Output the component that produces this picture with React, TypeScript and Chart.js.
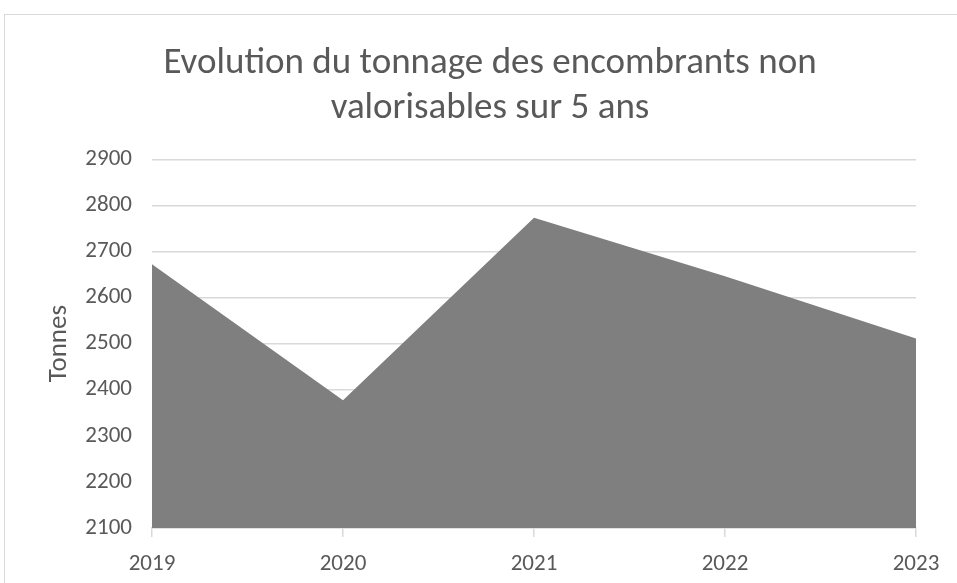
import { useEffect, useRef } from "react";
import { Chart, registerables } from "chart.js";

Chart.register(...registerables);

const years = ["2019", "2020", "2021", "2022", "2023"];
const tonnes = [2672, 2377, 2773, 2646, 2511];
const yMin = 2100;
const yMax = 2900;
const yStep = 100;
const titleLines = ["Evolution du tonnage des encombrants non", "valorisables sur 5 ans"];
const yTitle = "Tonnes";

const FONT = "Carlito, 'Open Sans', sans-serif";
const TEXT = "#595959";
const GRID = "#d9d9d9";

export default function App() {
  const ref = useRef<HTMLCanvasElement | null>(null);

  useEffect(() => {
    if (!ref.current) return;
    const chart = new Chart(ref.current, {
      type: "line",
      data: {
        labels: years,
        datasets: [
          {
            label: yTitle,
            data: tonnes,
            fill: "start",
            backgroundColor: "#7f7f7f",
            borderWidth: 0,
            borderColor: "rgba(0,0,0,0)",
            pointRadius: 0,
            tension: 0,
          },
        ],
      },
      options: {
        responsive: false,
        animation: false,
        layout: { padding: { left: 64, right: 41, top: 0, bottom: 0 } },
        plugins: {
          legend: { display: false },
          tooltip: { enabled: false },
          title: {
            display: true,
            text: titleLines,
            color: TEXT,
            font: { family: FONT, size: 37, weight: "normal", lineHeight: 1.22 },
            padding: { top: 41, bottom: 28 },
          },
        },
        scales: {
          x: {
            offset: false,
            grid: {
              display: true,
              drawOnChartArea: false,
              drawTicks: true,
              tickLength: 9,
              color: GRID,
              lineWidth: 1.5,
            },
            border: { display: true, color: GRID, width: 1.5 },
            ticks: {
              color: TEXT,
              font: { family: FONT, size: 23 },
              padding: 13,
              maxRotation: 0,
              autoSkip: false,
            },
            afterFit: (scale: any) => {
              scale.height = 55;
            },
          },
          y: {
            min: yMin,
            max: yMax,
            grid: { color: GRID, lineWidth: 1.5, drawTicks: false },
            border: { display: false },
            ticks: {
              stepSize: yStep,
              color: TEXT,
              font: { family: FONT, size: 23 },
              padding: 20,
              callback: (v: any) => String(v),
            },
            title: {
              display: true,
              text: yTitle,
              color: TEXT,
              font: { family: FONT, size: 27 },
              padding: { top: -21, bottom: 0 },
            },
            afterFit: (scale: any) => {
              scale.width = 88;
            },
          },
        },
      },
    });
    return () => chart.destroy();
  }, []);

  return (
    <div style={{ position: "fixed", left: 0, top: 0, width: 957, height: 583, background: "#fff", overflow: "hidden" }}>
      <div
        style={{
          position: "absolute",
          left: 4,
          top: 14,
          width: 2000,
          height: 2000,
          border: "1px solid #d9d9d9",
        }}
      />
      <canvas ref={ref} width={957} height={583} style={{ position: "absolute", left: 0, top: 0 }} />
    </div>
  );
}
